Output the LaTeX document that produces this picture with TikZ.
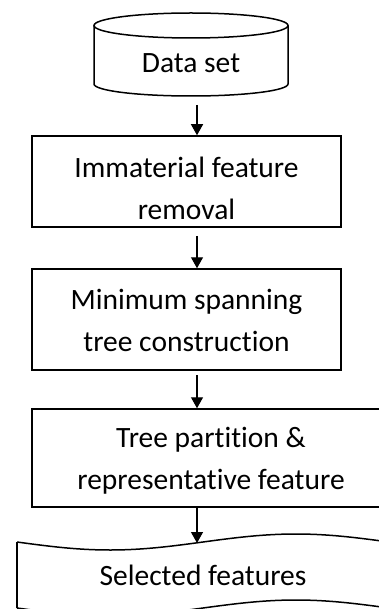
\documentclass[tikz,border=0pt]{standalone}
\usepackage{fontspec}
\setmainfont{Carlito}[Ligatures=NoCommon]
\usetikzlibrary{arrows.meta}
\begin{document}
\begin{tikzpicture}[x=1pt,y=-1pt,
  box/.style={draw,line width=1.5pt,inner sep=0pt},
  lbl/.style={align=center,inner sep=0pt,font=\fontsize{29.5}{42}\selectfont},
  arr/.style={line width=1.3pt,-{Triangle[length=11pt,width=12pt]}},
  shp/.style={line width=1.5pt}]
\useasboundingbox (0,0) rectangle (379,609);
\clip (0,0) rectangle (379,609);
% cylinder
\draw[shp] (191,25.5) ellipse [x radius=97, y radius=12.5];
\draw[shp] (94,25.5) -- (94,84) arc[start angle=180,end angle=360,x radius=97,y radius=-12] -- (288,25.5);
\node[lbl] (ds) at (191,63) {Data set};
% boxes
\node[box,minimum width=309,minimum height=91] (b1) at (186.5,181.5) {};
\node[lbl] (t1) at (186.5,188) {Immaterial feature\\removal};
\node[box,minimum width=309,minimum height=101] (b2) at (186.5,319.5) {};
\node[lbl] (t2) at (186.5,320) {Minimum spanning\\tree construction};
\node[box,minimum width=358,minimum height=98] (b3) at (211,458) {};
\node[lbl] (t3) at (211,461) {Tree partition \&\\representative feature};
% punched tape
\draw[shp] plot[domain=0:1,samples=80] ({17+372*\x},{542+8*sin(360*\x)});
\draw[shp] plot[domain=0:1,samples=80] ({17+372*\x},{608+8*sin(360*\x)});
\draw[shp] (17,542) -- (17,608);
\draw[shp] (389,542) -- (389,608);
\node[lbl] (sf) at (203,575) {Selected features};
\coordinate (tp) at (197,543);
% arrows
\coordinate (a1) at (197,105);
\coordinate (a2) at (197,236);
\coordinate (a3) at (197,375);
\draw[arr] (a1) -- (a1 |- b1.north);
\draw[arr] (a2) -- (a2 |- b2.north);
\draw[arr] (a3) -- (a3 |- b3.north);
\draw[arr] (b3.south -| tp) -- (tp);
\end{tikzpicture}
\end{document}
